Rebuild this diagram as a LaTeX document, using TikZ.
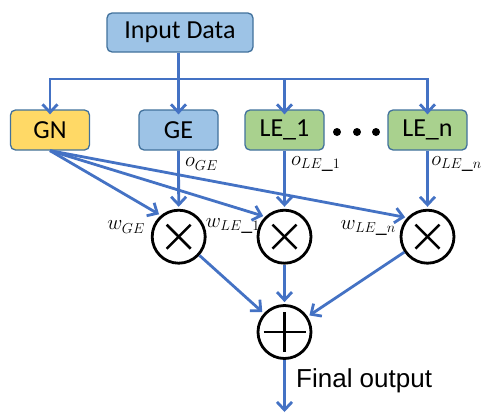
\documentclass[tikz,border=0pt]{standalone}
\usepackage{fontspec}
\setmainfont{Carlito}
\newfontfamily\arialfont{Liberation Sans}
\usetikzlibrary{arrows.meta}
\definecolor{flow}{HTML}{4472C4}
\definecolor{edge}{HTML}{41719C}
\definecolor{blueFill}{HTML}{9DC3E6}
\definecolor{yellowFill}{HTML}{FFD966}
\definecolor{greenFill}{HTML}{A9D18E}
\tikzset{
  box/.style={draw=edge, line width=1.3pt, rounded corners=5pt,
    minimum width=79pt, minimum height=40pt, inner sep=0pt,
    font=\fontsize{26}{30}\selectfont},
  arr/.style={draw=flow, line width=2.8pt,
    -{Straight Barb[length=8pt,width=15pt,line width=2.8pt]}},
  ln/.style={draw=flow, line width=2.8pt},
  op/.style={circle, draw=black, line width=2.8pt, minimum size=53pt, inner sep=0pt},
  mult/.style={op, path picture={
    \draw[line width=2.5pt] ([shift={(-12pt,-12pt)}]path picture bounding box.center) -- ++(24pt,24pt);
    \draw[line width=2.5pt] ([shift={(-12pt,12pt)}]path picture bounding box.center) -- ++(24pt,-24pt);}},
  plus/.style={op, path picture={
    \draw[line width=2.5pt] ([shift={(-21pt,0pt)}]path picture bounding box.center) -- ++(42pt,0pt);
    \draw[line width=2.5pt] ([shift={(0pt,-20pt)}]path picture bounding box.center) -- ++(0pt,40pt);}},
  lbl/.style={inner sep=0pt, font=\fontsize{22}{26}\selectfont},
  dot/.style={circle, fill=black, minimum size=8pt, inner sep=0pt}
}
\begin{document}
\begin{tikzpicture}[x=1pt,y=-1pt]
\useasboundingbox (0,0) rectangle (483,413);

% source and branches
\node[box, fill=blueFill, minimum width=146pt, minimum height=39pt] (input) at (180,32.5) {Input Data};
\node[box, fill=yellowFill] (gn) at (50,130) {GN};
\node[box, fill=blueFill] (ge) at (178.5,130) {GE};
\node[box, fill=greenFill] (le1) at (284.5,130) {LE\_1};
\node[box, fill=greenFill] (len) at (427.5,130) {LE\_n};
\node[dot] (d1) at (337,132) {};
\node[dot] (d2) at (357,132) {};
\node[dot] (d3) at (376,132) {};

% weighting and summation
\node[mult] (m1) at (178.7,236.7) {};
\node[mult] (m2) at (284.5,236.7) {};
\node[mult] (m3) at (427.5,236.7) {};
\node[plus] (sum) at (284.5,332) {};
\coordinate (out) at (284.5,413);

% distribution bus
\coordinate (bus) at (178.5,79);
\draw[ln] (input.south -| ge.north) -- (bus);
\draw[arr, shorten >=1pt] (bus) -| ([yshift=-6pt]gn.north);
\draw[arr, shorten >=1pt] (bus) -- ([yshift=-6pt]ge.north);
\draw[arr, shorten >=1pt] (bus) -| ([yshift=-6pt]le1.north);
\draw[arr, shorten >=1pt] (bus) -| ([yshift=-6pt]len.north);

% expert outputs
\draw[arr, shorten >=2pt] (ge.south) -- (m1.north);
\draw[arr, shorten >=2pt] (le1.south) -- (m2.north);
\draw[arr, shorten >=2pt] (len.south) -- (m3.north);

% gating weights
\draw[arr, shorten >=2pt] (gn.south) -- (m1.130);
\draw[arr, shorten >=2pt] (gn.south) -- (m2.134);
\draw[arr, shorten >=2pt] (gn.south) -- (m3.137);

% combination
\draw[arr, shorten >=2pt] (m1) -- (sum);
\draw[arr, shorten >=2pt] (m2) -- (sum);
\draw[arr, shorten >=2pt] (m3) -- (sum);
\draw[arr, shorten >=1pt] (sum) -- (out);

% labels
\node[lbl, anchor=west] (oge) at (185,164) {$o_{GE}$};
\node[lbl, anchor=west] (ole1) at (291,164) {$o_{LE\_1}$};
\node[lbl, anchor=east] (olen) at (482,164) {$o_{LE\_n}$};
\node[lbl, anchor=east] (wge) at (145,227) {$w_{GE}$};
\node[lbl, anchor=east] (wle1) at (260,226) {$w_{LE\_1}$};
\node[lbl, anchor=east] (wlen) at (396,228) {$w_{LE\_n}$};
\node[inner sep=0pt, anchor=west, font=\arialfont\fontsize{26}{30}\selectfont] (final) at (296,381) {Final output};
\end{tikzpicture}
\end{document}
